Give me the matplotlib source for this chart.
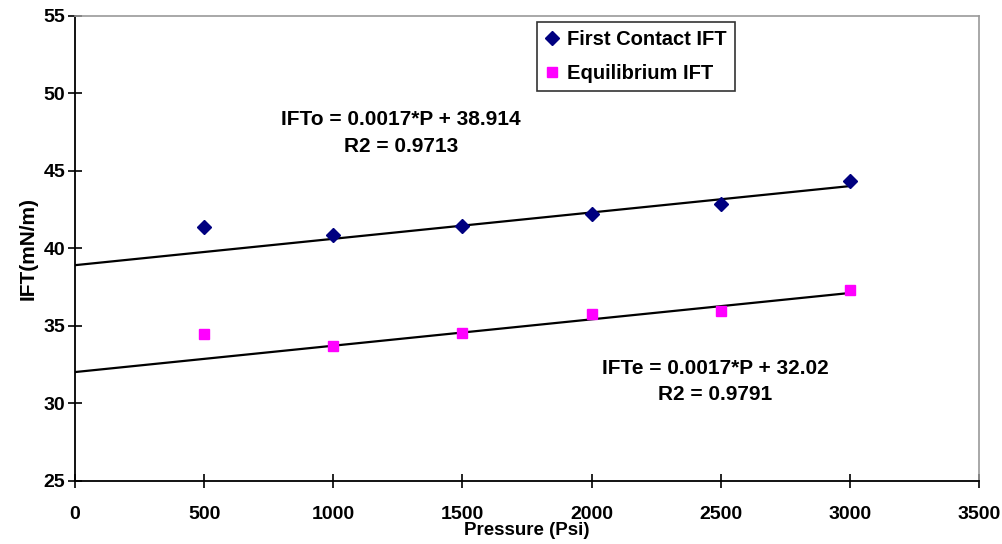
import numpy as np
import matplotlib.pyplot as plt

plt.rcParams['font.family'] = ['Liberation Sans', 'DejaVu Sans']
plt.rcParams['font.weight'] = 'bold'

# Data
pressure = [500, 1000, 1500, 2000, 2500, 3000]
ift_first = [41.35, 40.85, 41.45, 42.2, 42.85, 44.35]
ift_equil = [34.45, 33.7, 34.55, 35.75, 35.95, 37.3]

# Trendline coefficients shown on the chart
slope_o, icpt_o, r2_o = 0.0017, 38.914, 0.9713
slope_e, icpt_e, r2_e = 0.0017, 32.02, 0.9791

fig = plt.figure(figsize=(10.03, 5.44), dpi=100)
ax = fig.add_axes([0.0748, 0.116, 0.9012, 0.855])

# Trend lines
p_line = np.array([0, max(pressure)])
ax.plot(p_line, slope_o * p_line + icpt_o, color='black', lw=1.6, zorder=2)
ax.plot(p_line, slope_e * p_line + icpt_e, color='black', lw=1.6, zorder=2)

# Data points
ax.plot(pressure, ift_first, linestyle='none', marker='D', markersize=7,
        color='#000080', label='First Contact IFT', zorder=3)
ax.plot(pressure, ift_equil, linestyle='none', marker='s', markersize=7,
        color='#FF00FF', label='Equilibrium IFT', zorder=3)

ax.set_xlim(0, 3500)
ax.set_ylim(25, 55)
ax.set_xticks(np.arange(0, 3501, 500))
ax.set_yticks(np.arange(25, 56, 5))

for s in ['left', 'bottom']:
    ax.spines[s].set_color('black')
    ax.spines[s].set_linewidth(1.3)
for s in ['top', 'right']:
    ax.spines[s].set_color('#999999')
    ax.spines[s].set_linewidth(1.2)

ax.tick_params(axis='both', direction='inout', length=10, width=1.2,
               labelsize=14, colors='black')
ax.tick_params(axis='x', pad=13)
ax.tick_params(axis='y', pad=2)

ax.set_xlabel('Pressure (Psi)', fontsize=13.5, fontweight='bold', labelpad=-1)
ax.set_ylabel('IFT(mN/m)', fontsize=15, fontweight='bold', labelpad=4)

# Equation annotations
ax.text(1262, 47.45, f'IFTo = {slope_o}*P + {icpt_o}\nR2 = {r2_o}',
        ha='center', va='center', fontsize=15, fontweight='bold',
        linespacing=1.5)
ax.text(2479, 31.4, f'IFTe = {slope_e}*P + {icpt_e}\nR2 = {r2_e}',
        ha='center', va='center', fontsize=15, fontweight='bold',
        linespacing=1.5)

leg = ax.legend(loc='upper left', bbox_to_anchor=(0.511, 0.987),
                fontsize=14.5, frameon=True, fancybox=False, shadow=False,
                handlelength=0.7, handletextpad=0.4, borderpad=0.4,
                labelspacing=0.75, borderaxespad=0)
leg.get_frame().set_edgecolor('black')
leg.get_frame().set_linewidth(1.2)

plt.savefig('out.png', dpi=100)
